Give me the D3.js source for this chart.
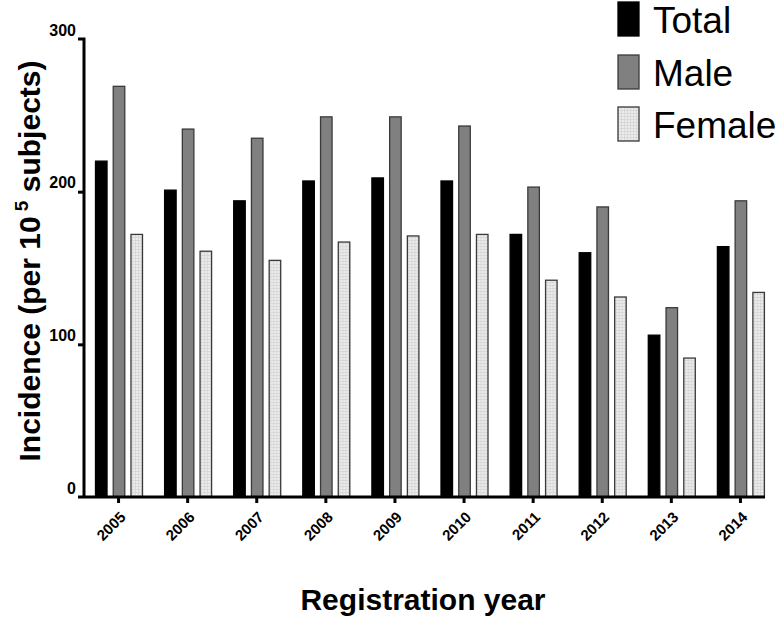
<!DOCTYPE html>
<html><head><meta charset="utf-8">
<script src="https://cdn.jsdelivr.net/npm/d3@7/dist/d3.min.js"></script>
<style>body{margin:0;background:#fff}svg{display:block;font-family:"Liberation Sans",Arial,sans-serif}</style>
</head><body>
<script>
const years = ["2005","2006","2007","2008","2009","2010","2011","2012","2013","2014"];
const seriesNames = ["Total","Male","Female"];
const total  = [220, 201, 194, 207, 209, 207, 172, 160, 106, 164];
const male   = [269, 241, 235, 249, 249, 243, 203, 190, 124, 194];
const female = [172, 161, 155, 167, 171, 172, 142, 131, 91, 134];
const yTicks = [0, 100, 200, 300];

const W = 777, H = 617;
const svg = d3.select("body").append("svg").attr("width", W).attr("height", H);
const defs = svg.append("defs");
const pat = defs.append("pattern").attr("id","fem").attr("patternUnits","userSpaceOnUse").attr("width",3).attr("height",3);
pat.append("rect").attr("width",3).attr("height",3).attr("fill","#ececec");
pat.append("path").attr("d","M0,0.5H3M0.5,0V3").attr("stroke","#d4d4d4").attr("stroke-width",0.8);

const fills = {Total:"#000", Male:"#808080", Female:"url(#fem)"};
const strokes = {Total:"#000", Male:"#3a3a3a", Female:"#3a3a3a"};
const data = years.map((y,i)=>({year:y, Total:total[i], Male:male[i], Female:female[i]}));

const x0 = d3.scaleBand().domain(years).range([84, 775]).padding(0);
const x1 = d3.scaleBand().domain(seriesNames).range([11.5, 58.5]).paddingInner(0.35).paddingOuter(0);
const y = d3.scaleLinear().domain([0, 300]).range([497, 39]);

// bars
const g = svg.append("g");
const groups = g.selectAll("g.grp").data(data).join("g").attr("class","grp")
  .attr("transform", d=>`translate(${x0(d.year)},0)`);
groups.selectAll("rect").data(d=>seriesNames.map(k=>({k, v:d[k]}))).join("rect")
  .attr("x", d=>x1(d.k)).attr("width", x1.bandwidth())
  .attr("y", d=>y(d.v)).attr("height", d=>y(0)-y(d.v))
  .attr("fill", d=>fills[d.k]).attr("stroke", d=>strokes[d.k]).attr("stroke-width",1.3);

// y axis
const ya = svg.append("g").attr("transform","translate(84,0)")
  .call(d3.axisLeft(y).tickValues(yTicks).tickSize(6).tickSizeOuter(0));
ya.select(".domain").attr("stroke","#000").attr("stroke-width",3).attr("d","M-6,39H0V498");
ya.selectAll(".tick line").attr("stroke","#000").attr("stroke-width",3);
ya.selectAll(".tick text").attr("font-size",16).attr("font-weight","bold").attr("fill","#000")
  .attr("font-family","'Liberation Sans',Arial,sans-serif").attr("x",-8).attr("dy","-4px");
ya.selectAll(".tick").filter(d=>d===300||d===0).select("line").remove();

// x axis
const xa = svg.append("g").attr("transform","translate(0,497)")
  .call(d3.axisBottom(x0).tickSize(6).tickSizeOuter(0));
xa.select(".domain").attr("stroke","#000").attr("stroke-width",3).attr("d","M78,0H765");
xa.selectAll(".tick line").attr("stroke","#000").attr("stroke-width",3);
xa.selectAll(".tick text").attr("font-size",15).attr("font-weight","bold").attr("fill","#000")
  .attr("font-family","'Liberation Sans',Arial,sans-serif")
  .attr("text-anchor","end").attr("y",0).attr("dy",0)
  .attr("transform","translate(8,21) rotate(-45)");

// axis titles
svg.append("text").attr("x",423).attr("y",610).attr("text-anchor","middle")
  .attr("font-size",30).attr("font-weight","bold").text("Registration year");
const yt = svg.append("text").attr("transform","translate(40,261) rotate(-90)").attr("text-anchor","middle")
  .attr("font-size",30).attr("font-weight","bold");
yt.append("tspan").text("Incidence (per 10");
yt.append("tspan").attr("font-size",19).attr("dy",-12).text(" 5");
yt.append("tspan").attr("dy",12).text(" subjects)");

// legend
const lg = svg.append("g").selectAll("g").data(seriesNames).join("g")
  .attr("transform",(d,i)=>`translate(618,${[2,55,107][i]})`);
lg.append("rect").attr("width",21).attr("height",34).attr("fill",d=>fills[d]).attr("stroke",d=>strokes[d]).attr("stroke-width",1.3);
lg.append("text").attr("x",35).attr("y",31).attr("font-size",37).attr("fill","#000").text(d=>d);
</script>
</body></html>
